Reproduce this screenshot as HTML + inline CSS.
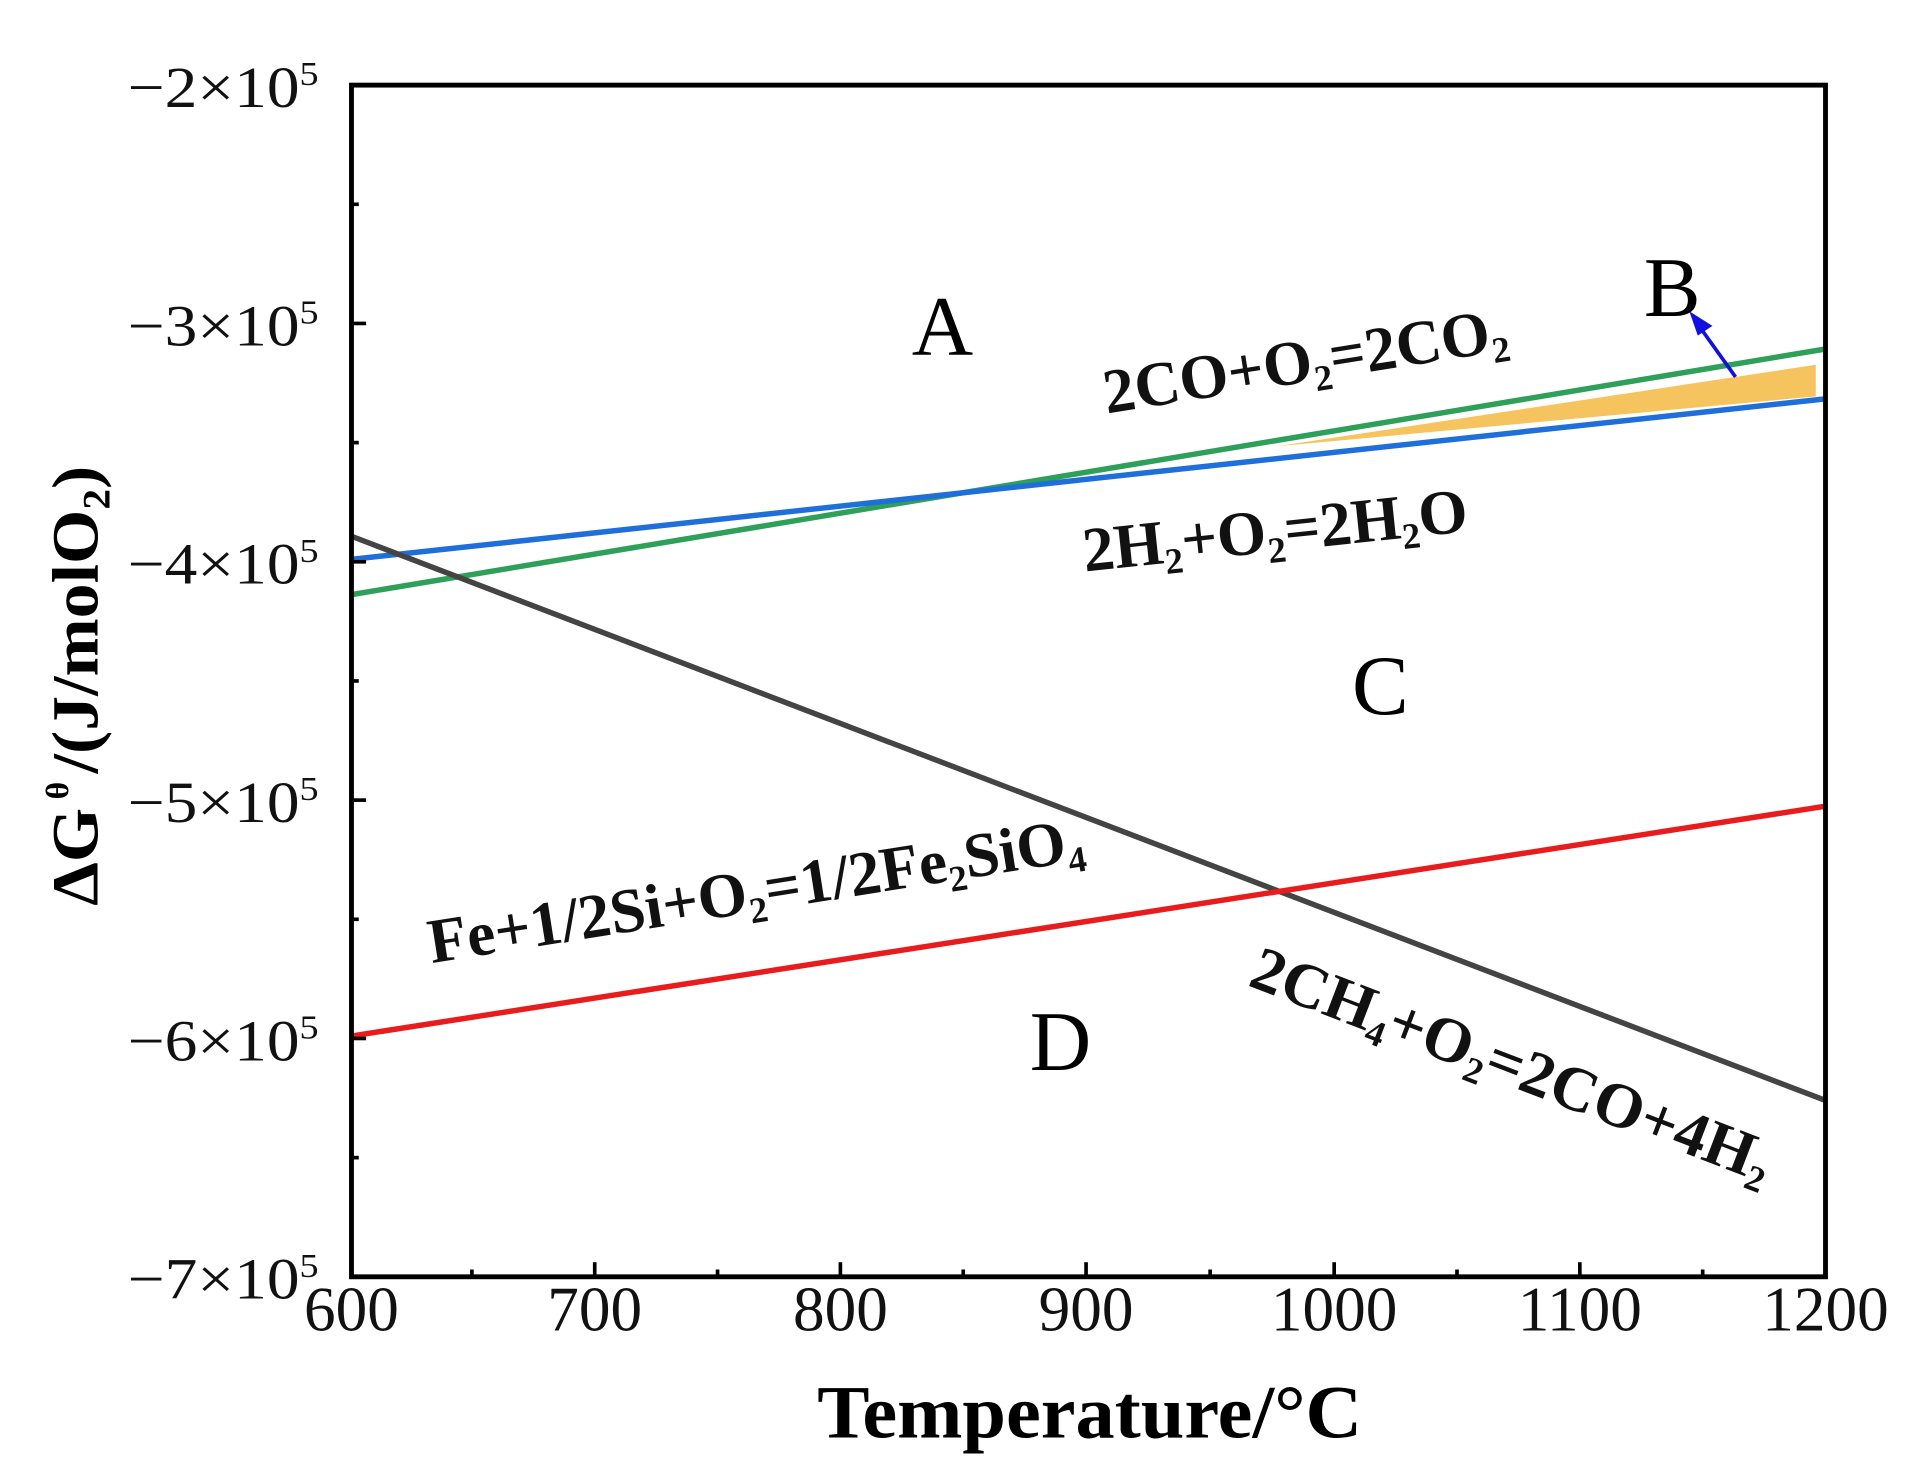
<!DOCTYPE html>
<html><head><meta charset="utf-8"><style>html,body{margin:0;padding:0;background:#fff}svg{display:block}</style></head>
<body>
<svg width="1907" height="1475" viewBox="0 0 1568 1213" preserveAspectRatio="none" xmlns="http://www.w3.org/2000/svg" font-family="Liberation Serif, serif">
<rect width="1568" height="1213" fill="#fff"/>
<polygon points="1050,367 1493,300 1493,326" fill="#f5c45e"/>
<g stroke-width="4.5" fill="none">
<line x1="289" y1="489" x2="1501" y2="287" stroke="#2ea05a"/>
<line x1="289" y1="460" x2="1501" y2="328" stroke="#1e6fd9"/>
<line x1="289" y1="441" x2="1501" y2="905" stroke="#444"/>
<line x1="289" y1="852" x2="1501" y2="663" stroke="#e81c1c"/>
</g>
<line x1="1427" y1="310" x2="1397" y2="268" stroke="#1010e0" stroke-width="3"/>
<polygon points="1389,256 1408,268 1396,276" fill="#1010e0"/>
<rect x="289" y="70" width="1212" height="980" fill="none" stroke="#000" stroke-width="4"/>
<g stroke="#000" stroke-width="3">
<line x1="489" y1="1050" x2="489" y2="1038"/><line x1="691" y1="1050" x2="691" y2="1038"/><line x1="893" y1="1050" x2="893" y2="1038"/><line x1="1097" y1="1050" x2="1097" y2="1038"/><line x1="1299" y1="1050" x2="1299" y2="1038"/>
<line x1="388" y1="1050" x2="388" y2="1044"/><line x1="590" y1="1050" x2="590" y2="1044"/><line x1="792" y1="1050" x2="792" y2="1044"/><line x1="995" y1="1050" x2="995" y2="1044"/><line x1="1198" y1="1050" x2="1198" y2="1044"/><line x1="1400" y1="1050" x2="1400" y2="1044"/>
<line x1="289" y1="266" x2="301" y2="266"/><line x1="289" y1="462" x2="301" y2="462"/><line x1="289" y1="658" x2="301" y2="658"/><line x1="289" y1="854" x2="301" y2="854"/>
<line x1="289" y1="168" x2="295" y2="168"/><line x1="289" y1="364" x2="295" y2="364"/><line x1="289" y1="560" x2="295" y2="560"/><line x1="289" y1="756" x2="295" y2="756"/><line x1="289" y1="952" x2="295" y2="952"/>
</g>
<g font-size="48" fill="#111">
<text x="105" y="88" textLength="157" lengthAdjust="spacingAndGlyphs">−2×10<tspan font-size="28" dy="-18">5</tspan></text>
<text x="105" y="284" textLength="157" lengthAdjust="spacingAndGlyphs">−3×10<tspan font-size="28" dy="-18">5</tspan></text>
<text x="105" y="480" textLength="157" lengthAdjust="spacingAndGlyphs">−4×10<tspan font-size="28" dy="-18">5</tspan></text>
<text x="105" y="676" textLength="157" lengthAdjust="spacingAndGlyphs">−5×10<tspan font-size="28" dy="-18">5</tspan></text>
<text x="105" y="872" textLength="157" lengthAdjust="spacingAndGlyphs">−6×10<tspan font-size="28" dy="-18">5</tspan></text>
<text x="105" y="1068" textLength="157" lengthAdjust="spacingAndGlyphs">−7×10<tspan font-size="28" dy="-18">5</tspan></text>
</g>
<g font-size="52" text-anchor="middle" fill="#111">
<text x="289" y="1094">600</text><text x="489" y="1094">700</text><text x="691" y="1094">800</text><text x="893" y="1094">900</text><text x="1097" y="1094">1000</text><text x="1299" y="1094">1100</text><text x="1501" y="1094">1200</text>
</g>
<text x="672" y="1182" font-size="62" font-weight="bold" textLength="448" lengthAdjust="spacingAndGlyphs">Temperature/°C</text>
<text transform="translate(80,745) rotate(-90)" font-size="54" font-weight="bold" textLength="362" lengthAdjust="spacingAndGlyphs">ΔG<tspan font-size="26" dy="-24"> θ </tspan><tspan dy="24">/(J/molO</tspan><tspan font-size="32" dy="10">2</tspan><tspan dy="-10">)</tspan></text>
<g font-size="70" text-anchor="middle">
<text x="775" y="292">A</text><text x="1375" y="260">B</text><text x="1135" y="587">C</text><text x="872" y="880">D</text>
</g>
<g font-size="52" font-weight="bold" fill="#111">
<text transform="translate(910,340) rotate(-9)" textLength="336" lengthAdjust="spacingAndGlyphs">2CO+O<tspan font-size="30" dy="9">2</tspan><tspan dy="-9">=2CO</tspan><tspan font-size="30" dy="9">2</tspan></text>
<text transform="translate(892,470) rotate(-6)" textLength="318" lengthAdjust="spacingAndGlyphs">2H<tspan font-size="30" dy="9">2</tspan><tspan dy="-9">+O</tspan><tspan font-size="30" dy="9">2</tspan><tspan dy="-9">=2H</tspan><tspan font-size="30" dy="9">2</tspan><tspan dy="-9">O</tspan></text>
<text transform="translate(355,792) rotate(-9)" textLength="545" lengthAdjust="spacingAndGlyphs">Fe+1/2Si+O<tspan font-size="30" dy="9">2</tspan><tspan dy="-9">=1/2Fe</tspan><tspan font-size="30" dy="9">2</tspan><tspan dy="-9">SiO</tspan><tspan font-size="30" dy="9">4</tspan></text>
<text transform="translate(1025,810) rotate(21)" textLength="455" lengthAdjust="spacingAndGlyphs">2CH<tspan font-size="30" dy="9">4</tspan><tspan dy="-9">+O</tspan><tspan font-size="30" dy="9">2</tspan><tspan dy="-9">=2CO+4H</tspan><tspan font-size="30" dy="9">2</tspan></text>
</g>
</svg>
</body></html>
